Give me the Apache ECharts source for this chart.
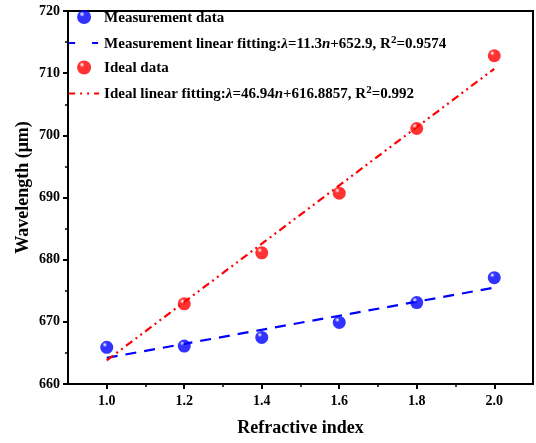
<!DOCTYPE html>
<html>
<head>
<meta charset="utf-8">
<script src="https://cdn.jsdelivr.net/npm/echarts@6/dist/echarts.min.js"></script>
<style>html,body{margin:0;padding:0;background:#fff}#c{width:536px;height:443px}</style>
</head>
<body>
<div id="c"></div>
<script>
// Data
var refractiveIndex = [1.0, 1.2, 1.4, 1.6, 1.8, 2.0];
var measurementData = [665.9, 666.1, 667.5, 669.9, 673.1, 677.1];
var idealIndex = [1.2, 1.4, 1.6, 1.8, 2.0];
var idealData = [672.9, 681.1, 690.7, 701.1, 712.8];
var fitIndex = [1.0, 2.0];
var measurementFit = [664.2, 675.5];
var idealFit = [663.8, 710.7];
var xMajorTicks = [1.0, 1.2, 1.4, 1.6, 1.8, 2.0];
var xMinorTicks = [1.1, 1.3, 1.5, 1.7, 1.9];

function pairs(xs, ys) { return xs.map(function (x, i) { return [x, ys[i]]; }); }

var FONT = '"Liberation Serif", "Times New Roman", serif';
function ball(c) {
  return {
    type: 'radial', x: 0.35, y: 0.3, r: 0.75,
    colorStops: [{offset: 0, color: '#ffffff'}, {offset: 0.25, color: c}, {offset: 1, color: c}]
  };
}

var chart = echarts.init(document.getElementById('c'), null, {renderer: 'canvas'});
var names = {
  'Measurement data': '{b|Measurement data}',
  'Measurement linear fitting': '{b|Measurement linear fitting:}{i|λ}{b|=11.3}{i|n}{b|+652.9, R}{sup|2}{b|=0.9574}',
  'Ideal data': '{b|Ideal data}',
  'Ideal linear fitting': '{b|Ideal linear fitting:}{i|λ}{b|=46.94}{i|n}{b|+616.8857, R}{sup|2}{b|=0.992}'
};
chart.setOption({
  animation: false,
  backgroundColor: '#fff',
  grid: {left: 68, right: 3, top: 11, bottom: 59, show: true, borderColor: '#000', borderWidth: 2,
    containLabel: false, outerBoundsMode: 'none'},
  legend: {
    orient: 'vertical', left: 63, top: 5,
    itemWidth: 30, itemHeight: 14, itemGap: 9,
    data: [
      {name: 'Measurement data'},
      {name: 'Measurement linear fitting', itemStyle: {opacity: 0}, lineStyle: {type: [6, 17], width: 2.2, color: '#0000ff'}},
      {name: 'Ideal data'},
      {name: 'Ideal linear fitting', itemStyle: {opacity: 0}, lineStyle: {type: [6, 5, 2, 5, 2, 5], width: 2.2, color: '#ff0000'}}
    ],
    formatter: function (n) { return names[n]; },
    textStyle: {
      fontFamily: FONT, fontWeight: 'bold', fontSize: 15, color: '#000',
      rich: {
        b: {fontFamily: FONT, fontWeight: 'bold', fontSize: 15, color: '#000', lineHeight: 17, verticalAlign: 'bottom'},
        i: {fontFamily: FONT, fontWeight: 'bold', fontStyle: 'italic', fontSize: 15, color: '#000', lineHeight: 17, verticalAlign: 'bottom'},
        sup: {fontFamily: FONT, fontWeight: 'bold', fontSize: 11, color: '#000', lineHeight: 11, verticalAlign: 'top'}
      }
    }
  },
  xAxis: [{
    type: 'value', min: 0.9, max: 2.1,
    name: 'Refractive index', nameLocation: 'middle', nameGap: 35,
    nameTextStyle: {fontFamily: FONT, fontWeight: 'bold', fontSize: 18, color: '#000'},
    axisLine: {show: true, onZero: false, lineStyle: {color: '#000', width: 2}},
    axisTick: {show: true, inside: false, length: 5, lineStyle: {color: '#000', width: 2}, customValues: xMajorTicks},
    axisLabel: {margin: 10, fontFamily: FONT, fontWeight: 'bold', fontSize: 14, color: '#000', customValues: xMajorTicks,
      formatter: function (v) { return v.toFixed(1); }},
    splitLine: {show: false}
  }, {
    type: 'value', min: 0.9, max: 2.1, position: 'bottom',
    axisLine: {show: false},
    axisTick: {show: true, length: 3, lineStyle: {color: '#000', width: 1.5}, customValues: xMinorTicks},
    axisLabel: {show: false},
    splitLine: {show: false}
  }],
  yAxis: {
    type: 'value', min: 660, max: 720, interval: 10,
    name: 'Wavelength (μm)', nameLocation: 'middle', nameGap: 36, nameMoveOverlap: false,
    nameTextStyle: {fontFamily: FONT, fontWeight: 'bold', fontSize: 18, color: '#000', padding: [0, 0, 0, 20]},
    axisLine: {show: true, onZero: false, lineStyle: {color: '#000', width: 2}},
    axisTick: {show: true, length: 5, lineStyle: {color: '#000', width: 2}},
    minorTick: {show: true, splitNumber: 2, length: 3, lineStyle: {color: '#000', width: 1.5}},
    axisLabel: {margin: 8, fontFamily: FONT, fontWeight: 'bold', fontSize: 14, color: '#000'},
    splitLine: {show: false}
  },
  series: [{
    name: 'Measurement linear fitting', type: 'line', data: pairs(fitIndex, measurementFit),
    symbol: 'none', z: 2,
    lineStyle: {color: '#0000ff', width: 2.2, type: [11, 8]},
    itemStyle: {color: '#0000ff'}
  }, {
    name: 'Ideal linear fitting', type: 'line', data: pairs(fitIndex, idealFit),
    symbol: 'none', z: 2,
    lineStyle: {color: '#ff0000', width: 2.2, type: [8, 4, 2, 4, 2, 4]},
    itemStyle: {color: '#ff0000'}
  }, {
    name: 'Measurement data', type: 'scatter', data: pairs(refractiveIndex, measurementData),
    symbol: 'circle', symbolSize: 13, z: 3,
    itemStyle: {color: ball('#0000ff')}
  }, {
    name: 'Ideal data', type: 'scatter', data: pairs(idealIndex, idealData),
    symbol: 'circle', symbolSize: 13, z: 3,
    itemStyle: {color: ball('#ff0000')}
  }]
});
</script>
</body>
</html>
